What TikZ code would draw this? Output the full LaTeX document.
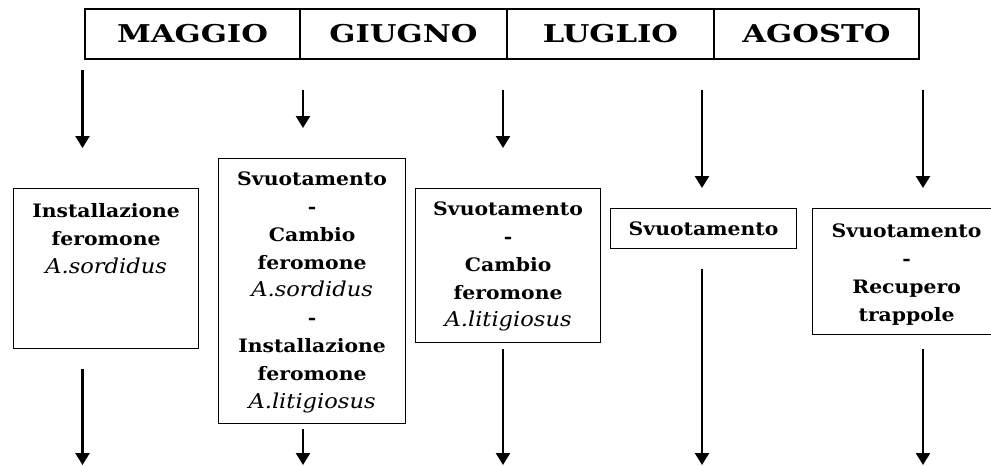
\documentclass[tikz,border=0pt]{standalone}
\usepackage{fontspec}
\setmainfont{DejaVu Serif}[FakeStretch=1.1]
\newfontfamily\monthfont{DejaVu Serif}[FakeStretch=1.25]
\usetikzlibrary{positioning}
\usetikzlibrary{arrows.meta}

\tikzset{
  month/.style={draw, line width=1.5pt, minimum height=50pt, inner sep=0pt,
    font=\monthfont\fontsize{24.5}{26}\selectfont\bfseries},
  task/.style={draw, line width=1.2pt, anchor=north west, align=center,
    inner sep=0pt, font=\fontsize{18.5}{27.8}\selectfont\bfseries},
  down/.style={line width=2.4pt, -{Triangle[width=14pt,length=12pt]}}
}
\newcommand{\spec}[1]{{\fontsize{20.5}{27.8}\selectfont\mdseries\itshape #1}}

\begin{document}
\begin{tikzpicture}[x=1pt, y=-1pt]

\clip (0,0) rectangle (991,466);

%---------------------------------------
% Levels of the arrows
%---------------------------------------
\def\ystart{90}
\def\yend{465}

%====================================================
% Months
%====================================================
\node[month, minimum width=215pt] (maggio) at (192.5,34) {MAGGIO};
\node[month, minimum width=207pt] (giugno) at (403.5,34) {GIUGNO};
\node[month, minimum width=207pt] (luglio) at (610.5,34) {LUGLIO};
\node[month, minimum width=205pt] (agosto) at (816.5,34) {AGOSTO};

%====================================================
% Tasks
%====================================================
\node[task, text width=185pt, text height=29pt, text depth=131pt]
  (inst) at (13,188) {Installazione\\feromone\\\spec{A.sordidus}};
\node[task, text width=187pt, text height=27pt, text depth=238pt]
  (cambioS) at (218,158) {Svuotamento\\-\\Cambio\\feromone\\\spec{A.sordidus}\\-\\Installazione\\feromone\\\spec{A.litigiosus}};
\node[task, text width=185pt, text height=27pt, text depth=127pt]
  (cambioL) at (415,188) {Svuotamento\\-\\Cambio\\feromone\\\spec{A.litigiosus}};
\node[task, text width=186pt, text height=27pt, text depth=13pt]
  (svuot) at (610,208) {Svuotamento};
\node[task, text width=188pt, text height=29pt, text depth=97pt]
  (recup) at (812,208) {Svuotamento\\-\\Recupero\\trappole};

%====================================================
% Arrows in (above the tasks)
%====================================================
\coordinate (in1a) at (82.5,70);     \coordinate (in1b) at (82.5,148);
\coordinate (in2a) at (303,\ystart); \coordinate (in2b) at (303,128);
\coordinate (in3a) at (503,\ystart); \coordinate (in3b) at (503,148);
\coordinate (in4a) at (702,\ystart); \coordinate (in4b) at (702,188);
\coordinate (in5a) at (923,\ystart); \coordinate (in5b) at (923,188);

\draw[down] (in1a) -- (in1b);
\draw[down] (in2a) -- (in2b);
\draw[down] (in3a) -- (in3b);
\draw[down] (in4a) -- (in4b);
\draw[down] (in5a) -- (in5b);

%====================================================
% Arrows out (below the tasks)
%====================================================
\coordinate (out1a) at (82.5,369); \coordinate (out1b) at (82.5,\yend);
\coordinate (out2a) at (303,429);  \coordinate (out2b) at (303,\yend);
\coordinate (out3a) at (503,349);  \coordinate (out3b) at (503,\yend);
\coordinate (out4a) at (702,269);  \coordinate (out4b) at (702,\yend);
\coordinate (out5a) at (923,349);  \coordinate (out5b) at (923,\yend);

\draw[down] (out1a) -- (out1b);
\draw[down] (out2a) -- (out2b);
\draw[down] (out3a) -- (out3b);
\draw[down] (out4a) -- (out4b);
\draw[down] (out5a) -- (out5b);

\end{tikzpicture}
\end{document}
